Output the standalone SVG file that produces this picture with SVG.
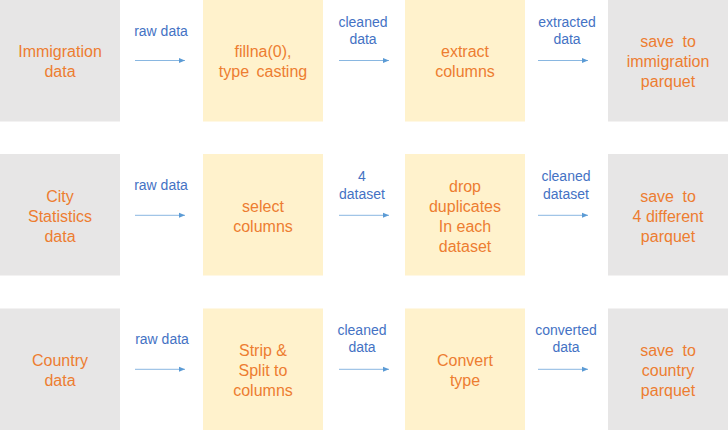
<svg xmlns="http://www.w3.org/2000/svg" width="728" height="430" viewBox="0 0 728 430">
<defs>
<marker id="ah" markerWidth="6" markerHeight="6" refX="6" refY="3" orient="auto" markerUnits="userSpaceOnUse">
<path d="M0,0.5 L6,3 L0,5.5 Z" fill="#5B9BD5"/>
</marker>
<style>
.src{fill:#E7E6E6}
.step{fill:#FFF2CC}
.t{font-family:"Liberation Sans",Arial,sans-serif;font-size:16px;fill:#ED7D31;text-anchor:middle}
.l{font-family:"Liberation Sans",Arial,sans-serif;font-size:14px;fill:#4472C4;text-anchor:middle}
.c{stroke:#5B9BD5;stroke-width:0.9;stroke-opacity:0.8;fill:none;marker-end:url(#ah)}
</style>
</defs>
<rect width="728" height="430" fill="#FFFFFF"/>

<g id="immigration-data"><rect class="src" x="0" y="0" width="120" height="121.5"/>
<text class="t" x="60" y="56.5">Immigration</text><text class="t" x="60" y="76.5">data</text></g>
<g id="fillna"><rect class="step" x="203" y="0" width="120" height="121.5"/>
<text class="t" x="263" y="56.5">fillna(0),</text><text class="t" x="263" y="76.5" word-spacing="3">type casting</text></g>
<g id="extract-columns"><rect class="step" x="405" y="0" width="120" height="121.5"/>
<text class="t" x="465" y="56.5">extract</text><text class="t" x="465" y="76.5">columns</text></g>
<g id="save-immigration"><rect class="src" x="608" y="0" width="120" height="121.5"/>
<text class="t" x="668" y="46.5" word-spacing="4">save to</text><text class="t" x="668" y="66.5">immigration</text><text class="t" x="668" y="86.5">parquet</text></g>

<g id="city-data"><rect class="src" x="0" y="154" width="120" height="121.5"/>
<text class="t" x="60" y="201.5">City</text><text class="t" x="60" y="221.5">Statistics</text><text class="t" x="60" y="241.5">data</text></g>
<g id="select-columns"><rect class="step" x="203" y="154" width="120" height="121.5"/>
<text class="t" x="263" y="211.5">select</text><text class="t" x="263" y="231.5">columns</text></g>
<g id="drop-duplicates"><rect class="step" x="405" y="154" width="120" height="121.5"/>
<text class="t" x="465" y="191.5">drop</text><text class="t" x="465" y="211.5">duplicates</text><text class="t" x="465" y="231.5">In each</text><text class="t" x="465" y="251.5">dataset</text></g>
<g id="save-city"><rect class="src" x="608" y="154" width="120" height="121.5"/>
<text class="t" x="668" y="201.5" word-spacing="4">save to</text><text class="t" x="668" y="221.5">4 different</text><text class="t" x="668" y="241.5">parquet</text></g>

<g id="country-data"><rect class="src" x="0" y="308.5" width="120" height="121.5"/>
<text class="t" x="60" y="365.5">Country</text><text class="t" x="60" y="385.5">data</text></g>
<g id="strip-split"><rect class="step" x="203" y="308.5" width="120" height="121.5"/>
<text class="t" x="263" y="355.5">Strip &amp;</text><text class="t" x="263" y="375.5">Split to</text><text class="t" x="263" y="395.5">columns</text></g>
<g id="convert-type"><rect class="step" x="405" y="308.5" width="120" height="121.5"/>
<text class="t" x="465" y="365.5">Convert</text><text class="t" x="465" y="385.5">type</text></g>
<g id="save-country"><rect class="src" x="608" y="308.5" width="120" height="121.5"/>
<text class="t" x="668" y="355.5" word-spacing="4">save to</text><text class="t" x="668" y="375.5">country</text><text class="t" x="668" y="395.5">parquet</text></g>

<g id="connectors">
<line class="c" x1="135" y1="60.5" x2="185" y2="60.5"/>
<line class="c" x1="339" y1="60.5" x2="389" y2="60.5"/>
<line class="c" x1="538" y1="60.5" x2="588" y2="60.5"/>
<line class="c" x1="135" y1="215.3" x2="185" y2="215.3"/>
<line class="c" x1="339" y1="215.3" x2="389" y2="215.3"/>
<line class="c" x1="538" y1="215.3" x2="588" y2="215.3"/>
<line class="c" x1="135" y1="369.3" x2="185" y2="369.3"/>
<line class="c" x1="339" y1="369.3" x2="389" y2="369.3"/>
<line class="c" x1="538" y1="369.3" x2="588" y2="369.3"/>
<text class="l" x="161" y="36">raw data</text>
<text class="l" x="363" y="26.5">cleaned</text><text class="l" x="363" y="44">data</text>
<text class="l" x="567" y="26.5">extracted</text><text class="l" x="567" y="44">data</text>
<text class="l" x="161" y="190">raw data</text>
<text class="l" x="362" y="181">4</text><text class="l" x="362" y="198.5">dataset</text>
<text class="l" x="566" y="181">cleaned</text><text class="l" x="566" y="198.5">dataset</text>
<text class="l" x="162" y="344">raw data</text>
<text class="l" x="362" y="335">cleaned</text><text class="l" x="362" y="352">data</text>
<text class="l" x="566" y="335">converted</text><text class="l" x="566" y="352">data</text>
</g>
</svg>
